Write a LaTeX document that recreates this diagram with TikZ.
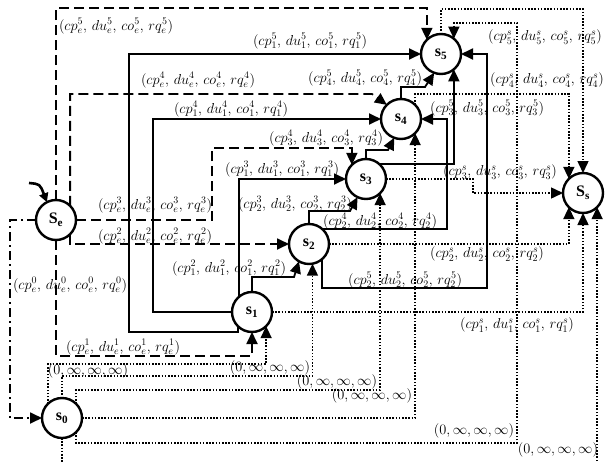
\documentclass[tikz,border=0pt]{standalone}
\usepackage{fontspec}
\newfontfamily\statefont{Liberation Serif}
\usetikzlibrary{arrows.meta}
\newcommand\tlab[2]{$(cp^{#1}_{#2},\,du^{#1}_{#2},\,co^{#1}_{#2},\,rq^{#1}_{#2})$}
\newcommand\zlab{$(0,\infty,\infty,\infty)$}
\begin{document}
\begin{tikzpicture}[x=1pt,y=-1pt,
  st/.style={circle,draw,fill=white,line width=2.4pt,minimum size=40pt,inner sep=0pt,outer sep=0pt,font=\statefont\bfseries\fontsize{16}{16}\selectfont},
  tip/.style={-{Triangle[length=12pt,width=11pt]}},
  sol/.style={tip,line width=1.8pt},
  dsh/.style={tip,line width=1.8pt,dash pattern=on 10pt off 5pt},
  dtt/.style={tip,line width=1.5pt,dash pattern=on 1.5pt off 1.7pt},
  ddt/.style={tip,line width=1.8pt,dash pattern=on 9pt off 4pt on 2pt off 4pt},
  lb/.style={inner sep=0pt,font=\fontsize{14}{16}\selectfont},
]
\useasboundingbox (0,0) rectangle (605,461);
\clip (0,0) rectangle (605,461);
\fill[white] (0,0) rectangle (605,461);
% states
\node[st] (se) at (56,220) {S\textsubscript{e}};
\node[st] (s0) at (62,418) {s\textsubscript{0}};
\node[st] (s1) at (252,312) {s\textsubscript{1}};
\node[st] (s2) at (309,244) {s\textsubscript{2}};
\node[st] (s3) at (366,179) {s\textsubscript{3}};
\node[st] (s4) at (401,119) {s\textsubscript{4}};
\node[st] (s5) at (441,54) {s\textsubscript{5}};
\node[st] (ss) at (583,193) {S\textsubscript{s}};
% initial arrow
\coordinate (init) at (29,183);
\draw[line width=2.6pt,-{Triangle[length=9pt,width=9pt]}] (init) .. controls (40,184) .. (se.117);
% from Se
\draw[dsh] (se.north) |- (200,8) -| (s5.135);
\draw[dsh] (se.45) |- (372,94) -- (s4.135);
\draw[dsh] (se.east) -| (212,148) -| (s3.135);
\draw[dsh] (se.-45) |- (s2.west);
\draw[dsh] (se.south) |- (150,356) -| (s1.south);
\draw[ddt] (se.west) -| (10,300) |- (s0.west);
% from s1
\draw[sol] (s1.north) |- (294,277) -- (s2.240);
\draw[sol] (s1.130) |- (s3.west);
\draw[sol] (s1.west) -| (153,200) |- (s4.west);
\draw[sol] (s1.225) |- (129,332) |- (s5.west);
\draw[dtt] (s1.east) -| (ss.south);
% from s2
\draw[sol] (s2.north) |- (350,211) -- (s3.245);
\draw[sol] (s2.50) -| (447,150) |- (s4.east);
\draw[sol] (s2.-50) |- (487,288) |- (s5.east);
\draw[dtt] (s2.east) -| (ss.225);
% from s3
\draw[sol] (s3.north) |- (388,150) -- (s4.250);
\draw[sol] (s3.50) -| (s5.-50);
\draw[dtt] (s3.east) -| (473,186) |- (ss.west);
% from s4
\draw[sol] (s4.north) |- (425,87) -- (s5.250);
\draw[dtt] (s4.45) |- (500,94) -| (ss.135);
% from s5
\draw[dtt] (s5.north) |- (500,9) -| (ss.north);
% from s0
\draw[dtt] (s0.135) |- (200,364) -| (s1.-45);
\draw[dtt] (s0.north) |- (200,376) -| (s2.-80);
\draw[dtt] (s0.45) |- (200,390) -| (s3.-45);
\draw[dtt] (s0.east) -| (s4.-45);
\draw[dtt] (s0.-45) |- (517,443) -- (517,23) -| (s5.50);
\draw[dtt] (s0.south) |- (300,470) -| (ss.-45);
% labels
\node[lb] (le5) at (116,26) {\tlab{5}{e}};
\node[lb] (l15) at (310,41) {\tlab{5}{1}};
\node[lb] (le4) at (198,80) {\tlab{4}{e}};
\node[lb] (l45) at (365,78) {\tlab{5}{4}};
\node[lb] (l14) at (231,109) {\tlab{4}{1}};
\node[lb] (l35) at (487,108) {\tlab{5}{3}};
\node[lb] (l34) at (326,138) {\tlab{4}{3}};
\node[lb] (l13) at (282,169) {\tlab{3}{1}};
\node[lb] (l3s) at (500,172) {\tlab{s}{3}};
\node[lb] (le3) at (155,205) {\tlab{3}{e}};
\node[lb] (l23) at (295,204) {\tlab{3}{2}};
\node[lb] (l24) at (380,221) {\tlab{4}{2}};
\node[lb] (le2) at (155,236) {\tlab{2}{e}};
\node[lb] (l2s) at (487,254) {\tlab{s}{2}};
\node[lb] (l12) at (229,268) {\tlab{2}{1}};
\node[lb] (l25) at (405,280) {\tlab{5}{2}};
\node[lb] (le0) at (70,285) {\tlab{0}{e}};
\node[lb] (l1s) at (517,325) {\tlab{s}{1}};
\node[lb] (le1) at (123,347) {\tlab{1}{e}};
\node[lb] (l4s) at (547,80) {\tlab{s}{4}};
\node[lb] (l5s) at (545,37) {\tlab{s}{5}};
\node[lb] (z1) at (88,371) {\zlab};
\node[lb] (z2) at (270,368) {\zlab};
\node[lb] (z3) at (337,382) {\zlab};
\node[lb] (z4) at (372,396) {\zlab};
\node[lb] (z5) at (474,431) {\zlab};
\node[lb] (z6) at (558,450) {\zlab};
\end{tikzpicture}
\end{document}
